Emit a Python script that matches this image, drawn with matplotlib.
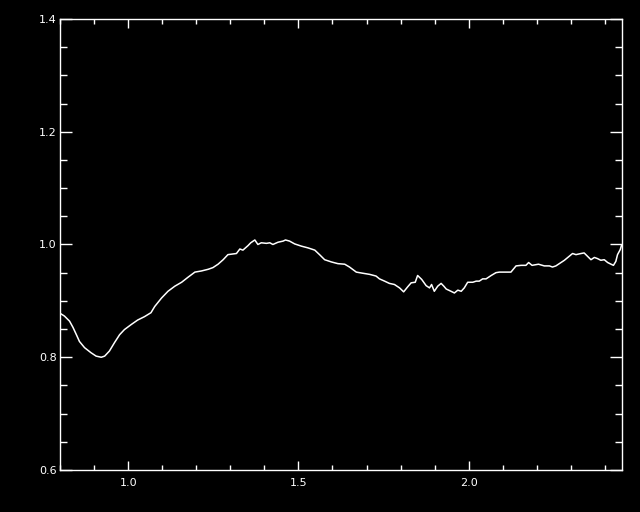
import numpy as np
import matplotlib
matplotlib.use('Agg')
import matplotlib.pyplot as plt
from matplotlib.ticker import MultipleLocator, FixedLocator

# curve values (wavelength-ish x, normalised y)
x_vals = [0.800, 0.813, 0.828, 0.838, 0.848, 0.857, 0.872, 0.891, 0.906, 0.921,
          0.931, 0.945, 0.960, 0.975, 0.989, 1.009, 1.028, 1.048, 1.067, 1.078,
          1.098, 1.117, 1.137, 1.157, 1.176, 1.196, 1.215, 1.235, 1.249, 1.264,
          1.279, 1.293, 1.318, 1.328, 1.337, 1.352, 1.360, 1.372, 1.381, 1.391,
          1.406, 1.416, 1.425, 1.440, 1.455, 1.462, 1.474, 1.489, 1.509, 1.528,
          1.548, 1.562, 1.577, 1.597, 1.616, 1.636, 1.650, 1.670, 1.689, 1.709,
          1.728, 1.738, 1.753, 1.767, 1.782, 1.797, 1.809, 1.821, 1.831, 1.843,
          1.850, 1.862, 1.875, 1.885, 1.891, 1.899, 1.909, 1.919, 1.927, 1.934,
          1.948, 1.958, 1.968, 1.978, 1.987, 1.997, 2.012, 2.022, 2.031, 2.041,
          2.051, 2.066, 2.080, 2.090, 2.110, 2.124, 2.139, 2.154, 2.168, 2.176,
          2.186, 2.205, 2.222, 2.237, 2.246, 2.256, 2.266, 2.281, 2.295, 2.305,
          2.315, 2.330, 2.339, 2.349, 2.359, 2.369, 2.378, 2.388, 2.398, 2.408,
          2.418, 2.425, 2.432, 2.437, 2.445, 2.449]
y_vals = [0.878, 0.873, 0.864, 0.853, 0.840, 0.828, 0.817, 0.808, 0.802, 0.800,
          0.802, 0.811, 0.826, 0.840, 0.849, 0.858, 0.866, 0.872, 0.879, 0.890,
          0.905, 0.917, 0.926, 0.933, 0.942, 0.951, 0.953, 0.956, 0.959, 0.965,
          0.973, 0.982, 0.984, 0.992, 0.990, 0.998, 1.003, 1.008, 1.000, 1.003,
          1.002, 1.003, 1.000, 1.004, 1.006, 1.008, 1.006, 1.001, 0.997, 0.994,
          0.990, 0.982, 0.973, 0.969, 0.966, 0.965, 0.960, 0.951, 0.949, 0.947,
          0.944, 0.939, 0.935, 0.931, 0.929, 0.923, 0.916, 0.925, 0.932, 0.933,
          0.945, 0.938, 0.927, 0.923, 0.929, 0.917, 0.926, 0.931, 0.926, 0.921,
          0.917, 0.914, 0.919, 0.917, 0.923, 0.933, 0.933, 0.935, 0.935, 0.939,
          0.939, 0.945, 0.950, 0.951, 0.951, 0.951, 0.962, 0.963, 0.963, 0.968,
          0.963, 0.965, 0.962, 0.962, 0.960, 0.962, 0.966, 0.972, 0.979, 0.984,
          0.982, 0.984, 0.985, 0.979, 0.973, 0.977, 0.975, 0.972, 0.973, 0.968,
          0.965, 0.963, 0.970, 0.982, 0.991, 0.999]

x_range = (0.8, 2.45)
y_range = (0.6, 1.4)
x_major = [1.0, 1.5, 2.0]
y_major = [0.6, 0.8, 1.0, 1.2, 1.4]

fig = plt.figure(figsize=(6.4, 5.12), dpi=100, facecolor='black')
ax = fig.add_axes([0.0938, 0.082, 0.878, 0.881], facecolor='black')

ax.plot(x_vals, y_vals, color='white', linewidth=1.1)

ax.set_xlim(*x_range)
ax.set_ylim(*y_range)

ax.xaxis.set_major_locator(FixedLocator(x_major))
ax.xaxis.set_minor_locator(MultipleLocator(0.1))
ax.yaxis.set_major_locator(FixedLocator(y_major))
ax.yaxis.set_minor_locator(MultipleLocator(0.05))
ax.set_xticklabels(['%.1f' % v for v in x_major])
ax.set_yticklabels(['%.1f' % v for v in y_major])

for spine in ax.spines.values():
    spine.set_color('white')
    spine.set_linewidth(1.0)

ax.tick_params(axis='both', which='both', direction='in', colors='white',
               top=True, right=True, labelsize=8, width=1.0)
ax.tick_params(axis='x', which='major', length=6.5, pad=6)
ax.tick_params(axis='x', which='minor', length=3.4)
ax.tick_params(axis='y', which='major', length=8.4, pad=2.5)
ax.tick_params(axis='y', which='minor', length=4.8)

fig.savefig('out.png', dpi=100, facecolor='black')
